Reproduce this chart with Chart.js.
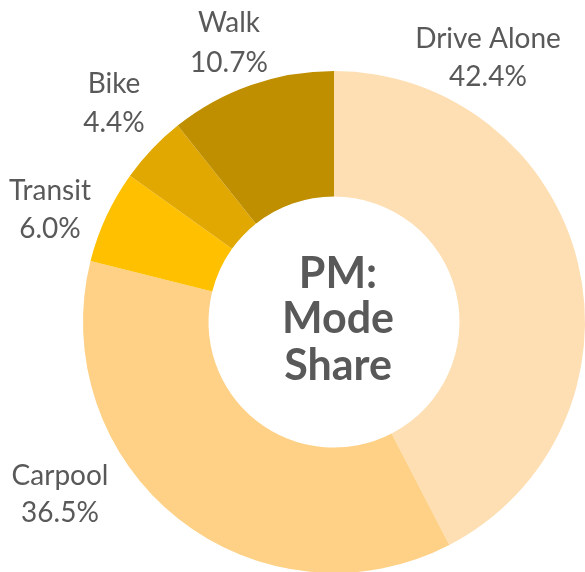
<!DOCTYPE html>
<html>
<head>
<meta charset="utf-8">
<script src="https://cdn.jsdelivr.net/npm/chart.js@4"></script>
<style>
  html, body { margin: 0; padding: 0; background: #ffffff; overflow: hidden; width: 585px; height: 572px; }
  #wrap { position: absolute; left: 0; top: 0; width: 668px; height: 644px; }
</style>
</head>
<body>
<div id="wrap"><canvas id="c" width="668" height="644"></canvas></div>
<script>
// ---- data ----
const categories = ["Drive Alone", "Carpool", "Transit", "Bike", "Walk"];
const shares = [42.4, 36.5, 6.0, 4.4, 10.7];
const centerTitle = ["PM:", "Mode", "Share"];

// ---- styling ----
const sliceColors = ["#FEDFB3", "#FED186", "#FFC000", "#E0A800", "#BF8F00"];
const textColor = "#595959";
// label anchor offsets (px) from chart centre: [x, baseline of line 1, baseline of line 2]
const labelOffsets = [
  [154, -274, -236],
  [-274, 163, 200],
  [-284, -122, -84],
  [-220, -229, -190],
  [-105, -290, -250]
];
const centerOffsets = { x: 4, baselines: [-34, 11, 58] };

const labelPlugin = {
  id: 'labels',
  afterDatasetsDraw(chart) {
    const ctx = chart.ctx;
    const meta = chart.getDatasetMeta(0);
    const arc0 = meta.data[0];
    const cx = arc0.x, cy = arc0.y;
    ctx.save();
    ctx.fillStyle = textColor;
    ctx.textAlign = 'center';
    ctx.textBaseline = 'alphabetic';
    ctx.font = '28px Lato';
    meta.data.forEach((arc, i) => {
      const o = labelOffsets[i];
      ctx.fillText(chart.data.labels[i], cx + o[0], cy + o[1]);
      ctx.fillText(chart.data.datasets[0].data[i].toFixed(1) + '%', cx + o[0], cy + o[2]);
    });
    ctx.font = 'bold 43px Lato';
    centerTitle.forEach((t, k) => {
      ctx.fillText(t, cx + centerOffsets.x, cy + centerOffsets.baselines[k]);
    });
    ctx.restore();
  }
};

new Chart(document.getElementById('c'), {
  type: 'doughnut',
  data: {
    labels: categories,
    datasets: [{
      data: shares,
      backgroundColor: sliceColors,
      borderWidth: 0,
      hoverOffset: 0
    }]
  },
  options: {
    responsive: false,
    animation: false,
    cutout: '50%',
    layout: { padding: { left: 83, right: 83, top: 71, bottom: 71 } },
    plugins: {
      legend: { display: false },
      tooltip: { enabled: false }
    }
  },
  plugins: [labelPlugin]
});
</script>
</body>
</html>
